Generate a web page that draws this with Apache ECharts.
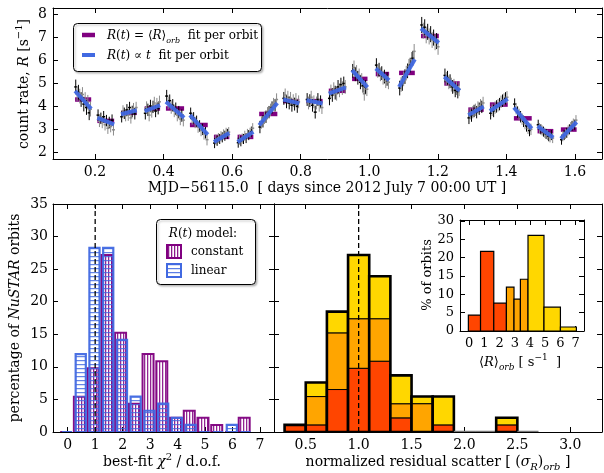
<!DOCTYPE html>
<html><head><meta charset="utf-8">
<script src="https://cdn.jsdelivr.net/npm/echarts@6/dist/echarts.min.js"></script>
<style>html,body{margin:0;padding:0;background:#fff}#c{width:604px;height:473px}</style>
</head><body><div id="c"></div>
<script>
// ================= DATA =================
// top panel: tick labels
const topXTicks = [0.2, 0.4, 0.6, 0.8, 1.0, 1.2, 1.4, 1.6];
const topYTicks = [2, 3, 4, 5, 6, 7, 8];
// per-orbit time span (MJD-56115.0)
const orbitStart = [0.142,0.207,0.276,0.345,0.407,0.477,0.547,0.616,0.679,0.749,0.817,0.882,0.950,1.019,1.087,1.151,1.219,1.289,1.352,1.422,1.491,1.559];
const orbitEnd   = [0.189,0.256,0.322,0.390,0.460,0.529,0.592,0.662,0.732,0.796,0.864,0.932,0.995,1.058,1.133,1.203,1.264,1.334,1.404,1.474,1.537,1.605];
// constant fit per orbit <R>_orb
const orbitMean  = [4.30,3.37,3.72,3.91,3.91,3.19,2.67,2.67,3.67,4.23,4.23,4.68,5.20,5.41,5.46,7.07,5.00,3.86,4.08,3.48,2.92,2.99];
// linear fit per orbit: value at start and end of orbit
const orbitLin0  = [4.67,3.50,3.66,3.79,4.20,3.62,2.45,2.45,3.18,4.30,4.27,4.56,5.58,5.65,4.85,7.40,5.29,3.62,3.80,3.95,3.14,2.60];
const orbitLin1  = [3.89,3.22,3.83,4.05,3.51,2.77,2.84,2.89,4.15,4.13,4.13,4.83,4.83,5.14,6.06,6.77,4.68,4.00,4.33,3.03,2.64,3.32];
// typical 1-sigma error per orbit
const orbitErr   = [0.32,0.25,0.25,0.27,0.27,0.25,0.22,0.22,0.27,0.28,0.28,0.30,0.30,0.30,0.32,0.35,0.30,0.27,0.27,0.25,0.22,0.22];
// binned count rates within each orbit (alternating detector modules: black / grey)
const orbitRates = [
  [4.85,4.55,4.62,4.45,4.30,4.52,4.10,4.30,3.95,4.18,3.72,3.88],
  [3.62,3.35,3.48,3.30,3.55,3.20,3.38,3.05,3.30,3.12,3.40,2.98],
  [3.55,3.80,3.70,3.60,3.85,3.62,3.95,3.50,3.78,3.90,3.68,3.95],
  [3.70,3.95,3.85,3.62,4.02,3.78,3.98,4.15,3.80,4.10,3.92,4.20],
  [4.45,4.15,4.25,3.95,4.05,3.80,3.90,3.62,3.75,3.45,3.60,3.40],
  [3.70,3.45,3.50,3.30,3.35,3.10,3.15,2.95,3.00,2.80,2.85,2.55],
  [2.40,2.55,2.50,2.62,2.58,2.70,2.65,2.78,2.72,2.85,2.80,2.88],
  [2.42,2.55,2.48,2.60,2.58,2.72,2.62,2.80,2.75,2.85,2.90,3.05],
  [3.10,3.30,3.35,3.50,3.55,3.70,3.75,3.85,3.95,4.10,4.05,4.30],
  [4.35,4.50,4.20,4.40,4.15,4.35,4.05,4.25,4.10,4.30,4.00,4.20],
  [4.30,4.15,4.25,4.40,4.05,4.20,3.75,4.15,4.30,4.05,4.20,3.95],
  [4.35,4.65,4.50,4.75,4.60,4.55,4.85,4.70,4.95,4.80,5.00,4.85],
  [5.55,5.70,5.40,5.50,5.25,5.35,5.05,5.15,4.90,4.55,4.85,4.75],
  [5.80,5.55,5.60,5.40,5.45,5.25,5.30,5.10,5.20,5.05],
  [4.80,4.95,5.00,5.20,5.30,5.45,5.55,5.75,5.80,6.05,6.10,6.40],
  [7.55,7.30,7.45,7.10,7.25,7.05,7.15,6.90,7.00,6.80,6.85,6.60],
  [5.35,5.20,5.25,5.05,5.10,4.95,4.85,4.90,4.70,4.80,4.65,4.75],
  [3.50,3.70,3.60,3.75,3.80,3.85,3.75,3.95,3.90,4.05,3.98,4.15],
  [3.70,3.85,3.80,3.95,4.00,4.05,4.10,4.20,4.25,4.30,4.35,4.40],
  [4.10,3.90,3.75,3.65,3.55,3.45,3.35,3.25,3.15,3.05,2.95,3.00],
  [3.20,3.05,3.00,2.95,2.90,2.85,2.80,2.75,2.70,2.65,2.75,2.62],
  [2.55,2.70,2.75,2.80,2.85,2.95,3.00,3.10,3.15,3.25,3.20,3.40]
];

// bottom-left: chi^2/dof histogram (percentage of orbits)
const chiTicks = [0,1,2,3,4,5,6,7];
const pctTicks = [0,5,10,15,20,25,30,35];
const chiBinCenters = [0.0,0.5,1.0,1.5,2.0,2.5,3.0,3.5,4.0,4.5,5.0,5.5,6.0,6.5];
const chiConstant   = [0,5.43,9.78,27.17,15.22,4.35,11.96,10.87,2.17,3.26,2.17,1.09,0,2.17];
const chiLinear     = [0,11.96,28.26,28.26,14.13,5.43,3.26,4.35,2.17,1.09,0,0,1.09,0];

// bottom-right: normalized residual scatter, stacked by mean-rate tercile
const sigTicks = [0.5,1.0,1.5,2.0,2.5,3.0];
const sigBinLo = [0.3,0.5,0.7,0.9,1.1,1.3,1.5,1.7,1.9,2.1,2.3,2.5];
const sigBinHi = [0.5,0.7,0.9,1.1,1.3,1.5,1.7,1.9,2.1,2.3,2.5,2.7];
const sigLowRate  = [1.09,1.09,6.52,9.78,10.87,2.17,0,1.09,0,0,1.09,0];
const sigMidRate  = [0,4.35,8.70,7.61,6.52,2.17,4.35,0,0,0,0,0];
const sigHighRate = [0,2.17,3.26,9.78,6.52,4.35,1.09,4.35,0,0,1.09,0];

// inset: <R>_orb histogram
const insetXTicks = [0,1,2,3,4,5,6,7];
const insetYTicks = [0,5,10,15,20,25,30];
const rateBinLo = [-0.05,0.75,1.62,2.45,2.95,3.37,3.87,4.92,6.00];
const rateBinHi = [0.75,1.62,2.45,2.95,3.37,3.87,4.92,6.00,7.05];
const rateHist  = [4.35,21.74,7.61,11.96,8.70,14.13,26.09,6.52,1.09];
const rateGroup = [0,0,0,1,1,1,2,2,2];

const refLine = 1.0;

// ================= STYLE / RENDER =================
const F = 'DejaVu Serif';
const PURPLE = '#800080', BLUE = '#4169E1';
const TERC = ['#FF4500', '#FFA500', '#FFD700'];

function stripe(vertical, strong, soft, period) {
  const cv = document.createElement('canvas');
  cv.width = vertical ? period : 1; cv.height = vertical ? 1 : period;
  const ctx = cv.getContext('2d');
  ctx.fillStyle = strong; ctx.fillRect(0, 0, 1, 1);
  ctx.fillStyle = soft;
  if (vertical) ctx.fillRect(1, 0, 1, 1); else ctx.fillRect(0, 1, 1, 1);
  return { image: cv, repeat: 'repeat' };
}
const hatchPurple = stripe(true, 'rgba(128,0,128,0.9)', 'rgba(128,0,128,0.25)', 3);
const hatchBlue = stripe(false, 'rgba(65,105,225,0.85)', 'rgba(65,105,225,0.2)', 4);

const chart = echarts.init(document.getElementById('c'), null, { renderer: 'canvas', width: 604, height: 473 });

const grids = [
  { left: 53, top: 8, width: 549, height: 151 },
  { left: 53, top: 204, width: 221, height: 228 },
  { left: 274, top: 204, width: 328, height: 228 },
  { left: 460, top: 220, width: 124, height: 111, show: true, backgroundColor: '#fff', borderWidth: 0 }
];

function ax(grid, pos, min, max, ticks, showLabel, fmt, fs, margin) {
  return {
    type: 'value', gridIndex: grid, position: pos, min, max,
    axisLine: { show: true, onZero: false, lineStyle: { color: '#000', width: 1 } },
    axisTick: { show: true, inside: true, length: 5, customValues: ticks, lineStyle: { color: '#000', width: 1 } },
    axisLabel: { show: showLabel, customValues: ticks, formatter: fmt, fontFamily: F, fontSize: fs || 14, color: '#000', margin: margin || 6 },
    splitLine: { show: false }
  };
}
const f1 = v => (+v).toFixed(1), f0 = v => String(Math.round(v));

const xAxis = [
  ax(0, 'bottom', 0.0776, 1.679, topXTicks, true, f1, 14, 6),
  ax(0, 'top', 0.0776, 1.679, topXTicks, false, f1),
  ax(1, 'bottom', -0.535, 7.51, chiTicks, true, f0, 14, 6),
  ax(1, 'top', -0.535, 7.51, chiTicks, false, f0),
  ax(2, 'bottom', 0.2, 3.3, sigTicks, true, f1, 14, 6),
  ax(2, 'top', 0.2, 3.3, sigTicks, false, f1),
  ax(3, 'bottom', -0.6, 7.55, insetXTicks, true, f0, 13, 6),
  ax(3, 'top', -0.6, 7.55, insetXTicks, false, f0)
];
const yAxis = [
  ax(0, 'left', 1.707, 8.29, topYTicks, true, f0, 14, 6),
  ax(0, 'right', 1.707, 8.29, topYTicks, false, f0),
  ax(1, 'left', 0, 35, pctTicks, true, f0, 14, 5),
  ax(1, 'right', 0, 35, pctTicks, false, f0),
  ax(2, 'left', 0, 35, pctTicks, false, f0),
  ax(2, 'right', 0, 35, pctTicks, false, f0),
  ax(3, 'left', 0, 30.3, insetYTicks, true, f0, 13, 6),
  ax(3, 'right', 0, 30.3, insetYTicks, false, f0)
];

// points
const pts = [];
orbitRates.forEach((arr, k) => {
  const n = arr.length, t0 = orbitStart[k], t1 = orbitEnd[k];
  arr.forEach((r, i) => pts.push([t0 + (i + 0.5) * (t1 - t0) / n, r, orbitErr[k], i % 2]));
});
const meanSegs = orbitMean.map((m, k) => [orbitStart[k], orbitEnd[k], m]);
const linSegs = orbitLin0.map((a, k) => [orbitStart[k], orbitEnd[k], a, orbitLin1[k]]);

function rectFrom(api, x0, x1, y0, y1) {
  const p0 = api.coord([x0, y1]), p1 = api.coord([x1, y0]);
  return { x: p0[0], y: p0[1], width: p1[0] - p0[0], height: p1[1] - p0[1] };
}

const series = [];
series.push({
  type: 'custom', xAxisIndex: 0, yAxisIndex: 0, data: meanSegs, clip: true, z: 2,
  renderItem: (p, api) => {
    const a = api.coord([api.value(0), api.value(2)]), b = api.coord([api.value(1), api.value(2)]);
    return { type: 'line', shape: { x1: a[0], y1: a[1], x2: b[0], y2: b[1] }, style: { stroke: PURPLE, lineWidth: 4.5 } };
  }
});
series.push({
  type: 'custom', xAxisIndex: 0, yAxisIndex: 0, data: pts, clip: true, z: 3,
  renderItem: (p, api) => {
    const x = api.value(0), y = api.value(1), e = api.value(2), g = api.value(3);
    const t = api.coord([x, y + e]), b = api.coord([x, y - e]), c = api.coord([x, y]);
    const col = g ? '#8a8a8a' : '#000';
    return { type: 'group', children: [
      { type: 'line', shape: { x1: t[0], y1: t[1], x2: b[0], y2: b[1] }, style: { stroke: col, lineWidth: 1 } },
      { type: 'line', shape: { x1: c[0] - 1.5, y1: c[1], x2: c[0] + 1.5, y2: c[1] }, style: { stroke: col, lineWidth: 1.5 } }
    ] };
  }
});
series.push({
  type: 'custom', xAxisIndex: 0, yAxisIndex: 0, data: linSegs, clip: true, z: 4,
  renderItem: (p, api) => {
    const a = api.coord([api.value(0), api.value(2)]), b = api.coord([api.value(1), api.value(3)]);
    return { type: 'line', shape: { x1: a[0], y1: a[1], x2: b[0], y2: b[1] }, style: { stroke: BLUE, lineWidth: 4, opacity: 0.95 } };
  }
});

// chi histograms
function chiSeries(vals, off, w, color, fill, lw, z) {
  return {
    type: 'custom', xAxisIndex: 2, yAxisIndex: 2, clip: true, z,
    data: chiBinCenters.map((c, i) => [c, vals[i]]),
    renderItem: (p, api) => {
      const c = api.value(0) + off, h = api.value(1);
      return { type: 'rect', shape: rectFrom(api, c - w / 2, c + w / 2, 0, h), style: { fill, stroke: color, lineWidth: lw, opacity: 0.95 } };
    }
  };
}
series.push(chiSeries(chiConstant, -0.075, 0.40, PURPLE, hatchPurple, 2, 2));
series.push(chiSeries(chiLinear, -0.025, 0.37, BLUE, hatchBlue, 2.2, 3));
series.push({ type: 'line', xAxisIndex: 2, yAxisIndex: 2, data: [[refLine, 0], [refLine, 35]], symbol: 'none', silent: true, z: 10,
  lineStyle: { color: '#000', width: 1.3, type: [5, 3] } });

// stacked residual-scatter histogram
series.push({
  type: 'custom', xAxisIndex: 4, yAxisIndex: 4, clip: true, z: 3,
  data: sigBinLo.map((lo, i) => [lo, sigBinHi[i], sigLowRate[i], sigMidRate[i], sigHighRate[i]]),
  renderItem: (p, api) => {
    const lo = api.value(0), hi = api.value(1);
    const v = [api.value(2), api.value(3), api.value(4)];
    const tot = v[0] + v[1] + v[2];
    if (tot === 0) {
      const a = api.coord([lo, 0]), b = api.coord([hi, 0]);
      return { type: 'line', shape: { x1: a[0], y1: a[1] - 0.5, x2: b[0], y2: b[1] - 0.5 }, style: { stroke: '#777', lineWidth: 1.5 } };
    }
    const ch = []; let base = 0;
    v.forEach((h, k) => {
      if (h > 0) ch.push({ type: 'rect', shape: rectFrom(api, lo, hi, base, base + h), style: { fill: TERC[k], stroke: '#000', lineWidth: 1 } });
      base += h;
    });
    ch.push({ type: 'rect', shape: rectFrom(api, lo, hi, 0, tot), style: { fill: 'none', stroke: '#000', lineWidth: 2.6 } });
    return { type: 'group', children: ch };
  }
});
series.push({ type: 'line', xAxisIndex: 4, yAxisIndex: 4, data: [[refLine, 0], [refLine, 35]], symbol: 'none', silent: true, z: 10,
  lineStyle: { color: '#000', width: 1.3, type: [5, 3] } });

// inset
series.push({
  type: 'custom', xAxisIndex: 6, yAxisIndex: 6, clip: true, z: 5,
  data: rateBinLo.map((lo, i) => [lo, rateBinHi[i], rateHist[i], rateGroup[i]]),
  renderItem: (p, api) => ({ type: 'rect', shape: rectFrom(api, api.value(0), api.value(1), 0, api.value(2)),
    style: { fill: TERC[api.value(3)], stroke: '#000', lineWidth: 1.2 } })
});

// ================= TEXT / LEGENDS =================
function rich(fs) {
  const sub = Math.round(fs * 0.68);
  return {
    n: { fontFamily: F, fontSize: fs, lineHeight: fs + 6, color: '#000' },
    i: { fontFamily: F, fontStyle: 'italic', fontSize: fs, lineHeight: fs + 6, color: '#000' },
    sup: { fontFamily: F, fontSize: sub, lineHeight: sub + 1, verticalAlign: 'top', color: '#000' },
    sub: { fontFamily: F, fontStyle: 'italic', fontSize: sub, lineHeight: sub + 1, verticalAlign: 'bottom', color: '#000' }
  };
}
const R14 = rich(14), R12 = rich(12), R13 = rich(13);
function txt(x, y, text, rch, rot, align) {
  return { type: 'text', x, y, rotation: rot || 0, z: 100,
    style: { text, rich: rch, align: align || 'center', verticalAlign: 'middle', fontFamily: F, fontSize: 14, fill: '#000' } };
}
const shadow = { shadowColor: 'rgba(0,0,0,0.25)', shadowBlur: 2, shadowOffsetX: 1.5, shadowOffsetY: 1.5 };

const graphic = [
  txt(24, 84, '{n|count rate, }{i|R}{n| [s}{sup|−1}{n|]}', R14, Math.PI / 2),
  txt(327, 188, '{n|MJD−56115.0  [ days since 2012 July 7 00:00 UT ]}', R14),
  txt(15, 318, '{n|percentage of }{i|NuSTAR}{n| orbits}', R14, Math.PI / 2),
  txt(162, 462, '{n|best-fit }{i|χ}{sup|2}{n| / d.o.f.}', R14),
  txt(438, 462, '{n|normalized residual scatter [ (}{i|σ}{sub|R}{n|)}{sub|orb}{n| ]}', R14),
  txt(428, 275, '{n|% of orbits}', R13, Math.PI / 2),
  txt(520, 363, '{n|⟨}{i|R}{n|⟩}{sub|orb}{n| [ s}{sup|−1}{n|  ]}', R13),
  // top legend
  { type: 'rect', z: 90, shape: { x: 73.5, y: 23.5, width: 188, height: 48, r: 4 }, style: Object.assign({ fill: '#fff', stroke: '#000', lineWidth: 1 }, shadow) },
  { type: 'line', z: 95, shape: { x1: 82, y1: 35, x2: 95, y2: 35 }, style: { stroke: PURPLE, lineWidth: 4.5 } },
  { type: 'line', z: 95, shape: { x1: 82, y1: 55, x2: 95, y2: 55 }, style: { stroke: BLUE, lineWidth: 4 } },
  txt(107, 36, '{i|R}{n|(}{i|t}{n|) = ⟨}{i|R}{n|⟩}{sub|orb}{n|  fit per orbit}', R12, 0, 'left'),
  txt(107, 56, '{i|R}{n|(}{i|t}{n|) ∝ }{i|t}{n|  fit per orbit}', R12, 0, 'left'),
  // bottom legend
  { type: 'rect', z: 90, shape: { x: 156.5, y: 219.5, width: 99, height: 65, r: 4 }, style: Object.assign({ fill: '#fff', stroke: '#000', lineWidth: 1 }, shadow) },
  txt(203, 234, '{i|R}{n|(}{i|t}{n|) model:}', R12),
  { type: 'rect', z: 95, shape: { x: 167, y: 245, width: 14, height: 13 }, style: { fill: hatchPurple, stroke: PURPLE, lineWidth: 2 } },
  { type: 'rect', z: 95, shape: { x: 167, y: 264, width: 14, height: 13 }, style: { fill: hatchBlue, stroke: BLUE, lineWidth: 2 } },
  txt(191, 252, '{n|constant}', R12, 0, 'left'),
  txt(191, 271, '{n|linear}', R12, 0, 'left')
];

chart.setOption({
  animation: false,
  backgroundColor: '#fff',
  grid: grids, xAxis, yAxis, series, graphic
});
</script></body></html>
